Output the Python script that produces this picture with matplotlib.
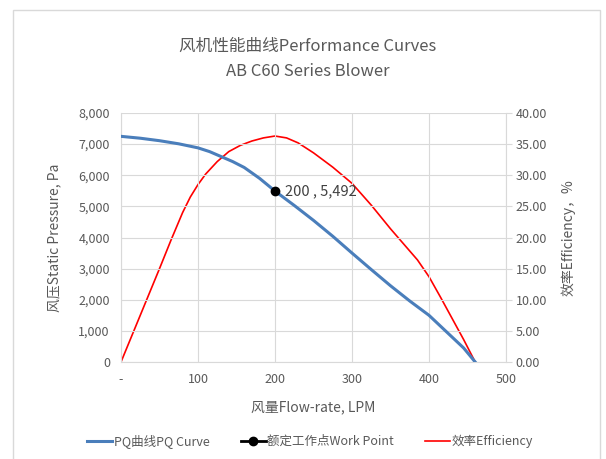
import matplotlib
matplotlib.use("Agg")
import matplotlib.pyplot as plt
from matplotlib.patches import Rectangle
from matplotlib.ticker import FuncFormatter, MultipleLocator

plt.rcParams['font.family'] = ['Noto Sans CJK SC', 'DejaVu Sans']

# PQ curve (flow LPM -> static pressure Pa)
pq_flow = [0, 25, 50, 75, 100, 115, 130, 145, 160, 180, 200, 225, 250, 275, 300,
           325, 350, 375, 400, 415, 430, 445, 460]
pq_pressure = [7250, 7190, 7110, 7010, 6880, 6760, 6600, 6440, 6250, 5900, 5492, 5030,
               4550, 4040, 3500, 2970, 2450, 1960, 1500, 1150, 800, 450, 0]

# efficiency curve (flow LPM -> %)
eff_flow = [0, 50, 65, 80, 90, 100, 110, 125, 140, 155, 170, 185, 200, 215, 230, 250,
            275, 300, 325, 350, 385, 400, 415, 430, 445, 460]
eff_values = [0, 15, 19.6, 24, 26.5, 28.5, 30.2, 32.2, 33.8, 34.8, 35.5, 36.0, 36.3, 36.0,
              35.2, 33.6, 31.3, 28.7, 25.2, 21.4, 16.4, 13.7, 10.4, 7, 3.6, 0]

# rated work point
wp_flow = [200]
wp_pressure = [5492]

grey = '#595959'
grid_c = '#d9d9d9'

fig = plt.figure(figsize=(6.06, 4.59), dpi=100)
ax = fig.add_axes([121/606, 1 - 362/459, 385/606, 249/459])
ax2 = ax.twinx()

# chart border
fig.patches.append(Rectangle((13/606, -0.05), 587/606, 1 - 10/459 + 0.05,
                             transform=fig.transFigure, fill=False,
                             edgecolor='#d9d9d9', linewidth=1))

l1, = ax.plot(pq_flow, pq_pressure, color='#4a7ebb', linewidth=2.2, label='PQ曲线PQ Curve',
              zorder=3, solid_joinstyle='round')
l2, = ax.plot(wp_flow, wp_pressure, color='black', marker='o', markersize=6,
              linewidth=2, label='额定工作点Work Point', zorder=5)
l3, = ax2.plot(eff_flow, eff_values, color='#ff0000', linewidth=1.2, label='效率Efficiency',
               solid_joinstyle='round')
ax.set_zorder(ax2.get_zorder() + 1)
ax.patch.set_visible(False)

ax.annotate(f'{wp_flow[0]} , {wp_pressure[0]:,}', (wp_flow[0], wp_pressure[0]),
            xytext=(7, 0), textcoords='offset points', va='center', ha='left',
            fontsize=10.5, color='#404040')

ax.set_xlim(0, 500)
ax.set_ylim(0, 8000)
ax2.set_ylim(0, 40)
ax.xaxis.set_major_locator(MultipleLocator(100))
ax.yaxis.set_major_locator(MultipleLocator(1000))
ax2.yaxis.set_major_locator(MultipleLocator(5))
ax.xaxis.set_major_formatter(FuncFormatter(lambda v, p: '-' if v == 0 else f'{v:.0f}'))
ax.yaxis.set_major_formatter(FuncFormatter(lambda v, p: f'{v:,.0f}'))
ax2.yaxis.set_major_formatter(FuncFormatter(lambda v, p: f'{v:.2f}'))

ax.grid(True, color=grid_c, linewidth=0.8)
ax.set_axisbelow(True)
for a in (ax, ax2):
    for s in a.spines.values():
        s.set_visible(False)
ax.spines['bottom'].set_visible(True)
ax.spines['bottom'].set_color(grid_c)
ax.spines['left'].set_visible(True)
ax.spines['left'].set_color(grid_c)
ax2.spines['right'].set_visible(True)
ax2.spines['right'].set_color(grid_c)

ax.tick_params(axis='both', length=0, colors=grey, labelsize=9, pad=8)
ax2.tick_params(axis='y', length=4, color=grid_c, labelcolor=grey, labelsize=9, pad=3)

ax.set_xlabel('风量Flow-rate, LPM', fontsize=10, color=grey, labelpad=10)
ax.set_ylabel('风压Static Pressure, Pa', fontsize=10, color=grey, labelpad=12)
ax2.set_ylabel('效率Efficiency，%', fontsize=10, color=grey, labelpad=10)

fig.text(308/606, 1 - 46/459, '风机性能曲线Performance Curves', ha='center', va='center',
         fontsize=12, color=grey)
fig.text(308/606, 1 - 71/459, 'AB C60 Series Blower', ha='center', va='center',
         fontsize=12, color=grey)

leg = fig.legend(handles=[l1, l2, l3], loc='center', bbox_to_anchor=(310/606, 1 - 441/459),
                 ncol=3, frameon=False, fontsize=9, handlelength=2.0, handletextpad=0.1,
                 columnspacing=2.5)
for t in leg.get_texts():
    t.set_color(grey)

fig.savefig('out.png', dpi=100)
